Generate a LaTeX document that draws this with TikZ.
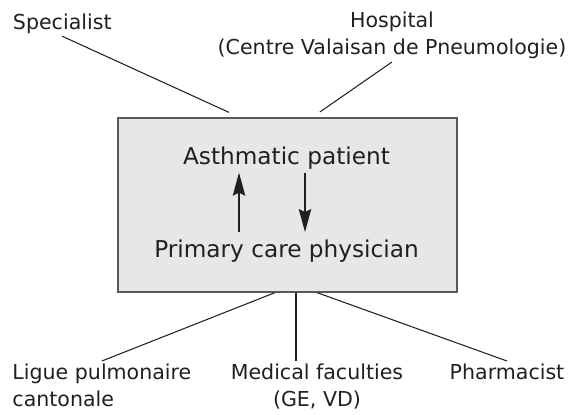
\documentclass[tikz,border=0pt]{standalone}
\usepackage{fontspec}
\setmainfont{DejaVu Sans}
\usepackage{xcolor}
\usetikzlibrary{arrows.meta, positioning}
\definecolor{inkdark}{HTML}{231F20}
\definecolor{panelfill}{HTML}{E6E7E8}
\definecolor{panelline}{HTML}{58595B}

\begin{document}
\begin{tikzpicture}[
    actor/.style={font=\fontsize{11.7}{15.3}\selectfont, text=inkdark, inner sep=1.5pt},
    role/.style={font=\fontsize{13.2}{16}\selectfont, text=inkdark},
    panel/.style={rectangle, draw=panelline, fill=panelfill, line width=0.7pt, minimum width=6.78cm, minimum height=3.48cm},
    link/.style={draw=inkdark, line width=0.6pt},
    arrow/.style={-{Stealth[length=4.6mm, width=2.5mm, inset=0.6mm]}, line width=0.6pt, color=inkdark}
]
\useasboundingbox (0,0) rectangle (11.4,-8.28);

% Patient and physician in the middle
\node[panel] (panel) at (5.75,-4.10) {};
\node[role, anchor=base, inner sep=2pt] (patient) at (5.73,-3.28) {Asthmatic patient};
\node[role, anchor=base, inner sep=4pt] (gp) at (5.73,-5.14) {Primary care physician};

\draw[arrow] ([xshift=-0.95cm]gp.north) -- ([xshift=-0.95cm]patient.south);
\draw[arrow] ([xshift=0.37cm]patient.south) -- ([xshift=0.37cm]gp.north);

% Partners above
\node[actor, anchor=base west] (spec) at (0.20,-0.58) {Specialist};
\node[actor, anchor=south, align=center] (hosp) at (7.84,-1.24) {Hospital\\(Centre Valaisan de Pneumologie)};

\draw[link] (spec.south) -- ([xshift=-1.17cm,yshift=0.1cm]panel.north);
\draw[link] (hosp.south) -- ([xshift=0.65cm,yshift=0.11cm]panel.north);

% Partners below
\node[actor, anchor=north west, align=left] (ligue) at (0.19,-7.22) {Ligue pulmonaire\\cantonale};
\node[actor, anchor=north, align=center] (fac) at (6.34,-7.22) {Medical faculties\\(GE, VD)};
\node[actor, anchor=north] (pharm) at (10.14,-7.22) {Pharmacist};

\draw[link] ([xshift=-0.25cm]panel.south) -- (ligue.north);
\draw[link] ([xshift=0.17cm]panel.south) -- ([xshift=-0.42cm]fac.north);
\draw[link] ([xshift=0.59cm]panel.south) -- (pharm.north);

\end{tikzpicture}
\end{document}
